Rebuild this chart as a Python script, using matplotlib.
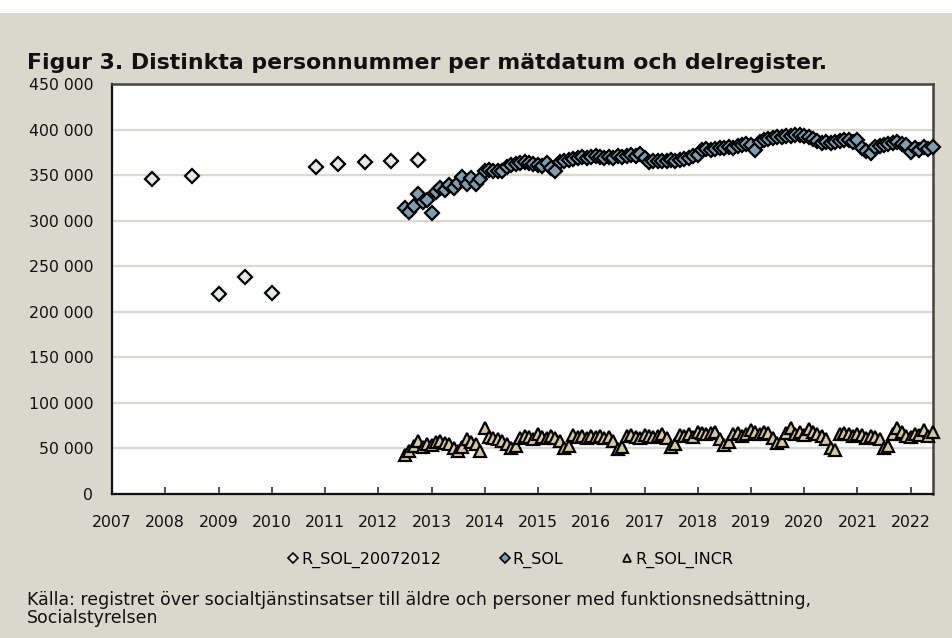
import matplotlib
matplotlib.use("Agg")
import matplotlib.pyplot as plt
import matplotlib.dates as mdates
from matplotlib.ticker import FuncFormatter, FixedLocator
from matplotlib.lines import Line2D
from matplotlib.patches import Rectangle
import pandas as pd

# ---------------- data ----------------
old_dates = ["2007-10-01", "2008-07-01", "2009-01-01", "2009-07-01", "2010-01-01",
             "2010-11-01", "2011-04-01", "2011-10-01", "2012-04-01", "2012-10-01"]
old_values = [346000, 348500, 219500, 238000, 220500,
              358500, 362500, 364000, 366000, 367000]

# monthly measurement dates Jul 2012 .. Jun 2022
month_dates = pd.date_range("2012-07-01", "2022-06-01", freq="MS")

r_sol = [
    # 2012 Jul-Dec
    314000, 310000, 316000, 329000, 321000, 323000,
    # 2013
    308000, 332000, 336000, 334000, 339000, 336000, 341000, 348000, 340000, 347000, 340000, 346000,
    # 2014
    355000, 356000, 355000, 354000, 355000, 359000, 361000, 362000, 363000, 364000, 363000, 362000,
    # 2015
    361000, 360000, 363000, 358000, 355000, 364000, 366000, 367000, 368000, 369000, 370000, 369000,
    # 2016
    370000, 371000, 370000, 369000, 370000, 369000, 371000, 370000, 371000, 372000, 371000, 373000,
    # 2017
    369000, 364000, 366000, 365000, 366000, 366000, 367000, 366000, 367000, 368000, 369000, 371000,
    # 2018
    372000, 378000, 379000, 378000, 379000, 380000, 380000, 381000, 380000, 382000, 383000, 384000,
    # 2019
    383000, 378000, 386000, 388000, 390000, 391000, 392000, 392000, 393000, 393000, 394000, 394000,
    # 2020
    393000, 392000, 390000, 387000, 385000, 386000, 385000, 386000, 387000, 388000, 389000, 386000,
    # 2021
    388000, 380000, 376000, 374000, 381000, 382000, 383000, 384000, 385000, 386000, 384000, 383000,
    # 2022 Jan-Jun
    375000, 380000, 378000, 381000, 379000, 381000,
]

r_sol_incr = [
    # 2012 Jul-Dec
    43000, 47000, 53000, 58000, 52000, 55000,
    # 2013
    54000, 57000, 58000, 56000, 55000, 50000, 47000, 52000, 60000, 57000, 55000, 47000,
    # 2014
    72000, 63000, 61000, 60000, 58000, 55000, 51000, 53000, 62000, 64000, 63000, 60000,
    # 2015
    66000, 63000, 61000, 64000, 62000, 58000, 50000, 53000, 65000, 63000, 64000, 62000,
    # 2016
    64000, 63000, 64000, 62000, 63000, 58000, 49000, 52000, 64000, 65000, 63000, 62000,
    # 2017
    65000, 64000, 63000, 64000, 66000, 62000, 52000, 55000, 65000, 64000, 66000, 63000,
    # 2018
    68000, 67000, 66000, 67000, 68000, 60000, 54000, 57000, 66000, 67000, 64000, 66000,
    # 2019
    70000, 68000, 66000, 68000, 67000, 62000, 56000, 58000, 67000, 72000, 66000, 68000,
    # 2020
    65000, 71000, 68000, 66000, 64000, 60000, 50000, 48000, 66000, 67000, 66000, 64000,
    # 2021
    66000, 65000, 62000, 64000, 63000, 60000, 51000, 53000, 66000, 72000, 68000, 64000,
    # 2022 Jan-Jun
    63000, 66000, 65000, 70000, 64000, 68000,
]

year_ticks = list(range(2007, 2023))
y_ticks = [0, 50000, 100000, 150000, 200000, 250000, 300000, 350000, 400000, 450000]

series_names = ["R_SOL_20072012", "R_SOL", "R_SOL_INCR"]
title = "Figur 3. Distinkta personnummer per mätdatum och delregister."
source_1 = "Källa: registret över socialtjänstinsatser till äldre och personer med funktionsnedsättning,"
source_2 = "Socialstyrelsen"

# ---------------- style ----------------
BG = "#DAD8CC"
GRID = "#DCDAD0"
C_OLD = "#E3E8E8"
C_SOL = "#7E9DAF"
C_INCR = "#D6C7A0"
plt.rcParams["font.family"] = ["DejaVu Sans"]

W, H = 952, 638
L, R, T, B = 112, 933, 84, 494
fig = plt.figure(figsize=(W / 100, H / 100), dpi=100, facecolor=BG)
fig.patches.append(Rectangle((0, 1 - 13 / H), 1, 13 / H, transform=fig.transFigure,
                             facecolor="white", edgecolor="none", zorder=0))

ax = fig.add_axes([L / W, 1 - B / H, (R - L) / W, (B - T) / H])
ax.set_facecolor("white")

old_x = pd.to_datetime(old_dates)

ax.plot(old_x, old_values, linestyle="none", marker="D", ms=7, mfc=C_OLD, mec="black",
        mew=1.6, zorder=3, clip_on=False)
ax.plot(month_dates, r_sol, linestyle="none", marker="D", ms=7, mfc=C_SOL, mec="black",
        mew=1.6, zorder=4, clip_on=False)
ax.plot(month_dates, r_sol_incr, linestyle="none", marker="^", ms=8.5, mfc=C_INCR, mec="black",
        mew=1.6, zorder=4, clip_on=False)

ax.set_xlim(pd.Timestamp("2007-01-01"), pd.Timestamp("2022-06-03"))
ax.set_ylim(0, 450000)

ax.xaxis.set_major_locator(FixedLocator([mdates.date2num(pd.Timestamp(f"{y}-01-01")) for y in year_ticks]))
ax.xaxis.set_major_formatter(FuncFormatter(lambda v, p: str(mdates.num2date(v).year)))
ax.yaxis.set_major_locator(FixedLocator(y_ticks))
ax.yaxis.set_major_formatter(FuncFormatter(lambda v, p: f"{int(v):,}".replace(",", " ")))

ax.tick_params(axis="x", direction="in", length=5, width=1.2, color="#333333",
               labelsize=11.3, pad=15, labelcolor="#111111")
ax.tick_params(axis="y", length=0, labelsize=11.3, pad=13.5, labelcolor="#111111")

ax.grid(axis="y", color=GRID, linewidth=1.6, zorder=0)
ax.set_axisbelow(True)
for side in ["left", "bottom"]:
    ax.spines[side].set_color("#111111")
    ax.spines[side].set_linewidth(1.6)
for side in ["top", "right"]:
    ax.spines[side].set_color("#444444")
    ax.spines[side].set_linewidth(1.8)

# texts, fitted to the widths measured on the reference
renderer = fig.canvas.get_renderer()

def fitted_text(x_px, y_px, s, target_w, size, **kw):
    t = fig.text(x_px / W, 1 - y_px / H, s, fontsize=size, va="center", ha="left", **kw)
    w = t.get_window_extent(renderer).width
    t.set_fontsize(size * target_w / w)
    return t

fitted_text(27, 63, title, 800, 15, fontweight="bold", color="#111111")
src = fitted_text(27, 600, source_1, 780, 12, color="#111111")
fig.text(27 / W, 1 - 618 / H, source_2, fontsize=src.get_fontsize(), va="center",
         ha="left", color="#111111")

handles = [
    Line2D([], [], linestyle="none", marker="D", ms=5, mfc=C_OLD, mec="black", mew=1.2),
    Line2D([], [], linestyle="none", marker="D", ms=5, mfc=C_SOL, mec="black", mew=1.2),
    Line2D([], [], linestyle="none", marker="^", ms=6, mfc=C_INCR, mec="black", mew=1.2),
]
fig.legend(handles, series_names, loc="center", bbox_to_anchor=(510 / W, 1 - 560 / H),
           ncol=3, frameon=False, fontsize=11.5, handlelength=0.8, handletextpad=0.1,
           columnspacing=3.6)

fig.savefig("out.png", dpi=100, facecolor=BG)
